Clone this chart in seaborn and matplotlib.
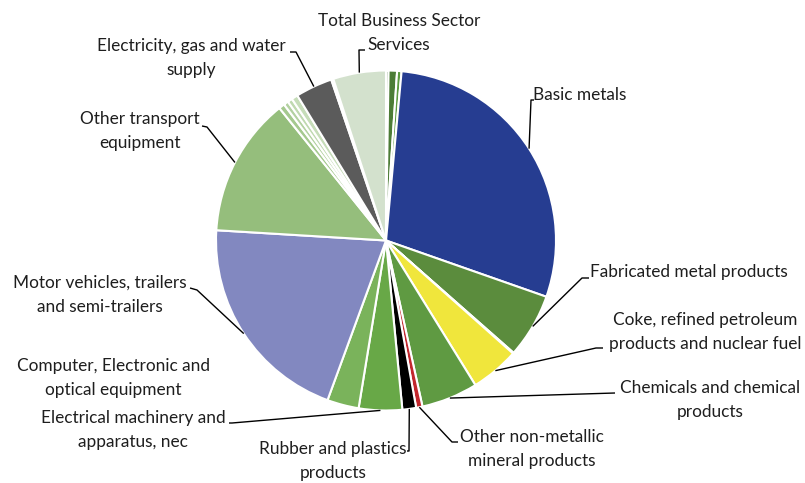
import matplotlib
matplotlib.use("Agg")
import matplotlib.pyplot as plt
import numpy as np
import seaborn as sns

# Sector shares (%), listed clockwise from 12 o'clock
sectors = [
    "", "", "",
    "Basic metals",
    "Fabricated metal products",
    "",
    "Coke, refined petroleum\nproducts and nuclear fuel",
    "Chemicals and chemical\nproducts",
    "Other non-metallic\nmineral products",
    "Rubber and plastics\nproducts",
    "Electrical machinery and\napparatus, nec",
    "Computer, Electronic and\noptical equipment",
    "Motor vehicles, trailers\nand semi-trailers",
    "Other transport\nequipment",
    "", "", "", "",
    "Electricity, gas and water\nsupply",
    "",
    "Total Business Sector\nServices",
]
shares = [
    0.24, 0.8, 0.42,
    28.8,
    6.1,
    0.08,
    4.6,
    5.35,
    0.6,
    1.3,
    4.1,
    3.0,
    20.3,
    13.2,
    0.55, 0.45, 0.45, 0.6,
    3.5,
    0.2,
    5.0,
]
slice_colors = [
    "#3f6e2e", "#4c7c36", "#5c9a3f",
    "#263d91",
    "#5b8c3d",
    "#9fa6d6",
    "#f0e63c",
    "#5f9a42",
    "#c2272d",
    "#000000",
    "#68a847",
    "#7ab35b",
    "#8288c0",
    "#95be7c",
    "#a5c98f", "#b3d1a1", "#bfd9b0", "#c6ddb9",
    "#5b5b5b",
    "#e3ecdd",
    "#d3e1cd",
]

W, H = 805, 483

# Label placement in pixel units (y measured from the top):
# text anchor, alignment, and leader path from the label back toward the slice
label_layout = {
    "Total Business Sector\nServices": ((399, 33), "center", [(365, 50), (359, 50)]),
    "Electricity, gas and water\nsupply": ((191, 58), "center", [(290, 52), (296, 52)]),
    "Other transport\nequipment": ((140, 131), "center", [(202, 126), (207, 127)]),
    "Basic metals": ((533, 95), "left", [(534, 100), (531, 100)]),
    "Fabricated metal products": ((590, 272), "left", [(589, 278), (582, 278)]),
    "Coke, refined petroleum\nproducts and nuclear fuel": ((705, 332), "center", [(603, 348), (596, 348)]),
    "Chemicals and chemical\nproducts": ((710, 400), "center", [(615, 393)]),
    "Other non-metallic\nmineral products": ((532, 449), "center", [(458, 442), (452, 442)]),
    "Rubber and plastics\nproducts": ((333, 461), "center", [(407, 451), (409, 451)]),
    "Electrical machinery and\napparatus, nec": ((133, 430), "center", [(229, 423), (232, 423)]),
    "Computer, Electronic and\noptical equipment": ((113, 378), "center", []),
    "Motor vehicles, trailers\nand semi-trailers": ((100, 295), "center", [(190, 288), (197, 290)]),
}

sns.set_theme(style="white")
plt.rcParams["font.family"] = ["Lato", "DejaVu Sans"]

fig = plt.figure(figsize=(W / 100, H / 100), dpi=100)
ax = fig.add_axes([0, 0, 1, 1])

cx, cy, radius = 386, H - 240.5, 170
palette = sns.color_palette(slice_colors)
wedges, _ = ax.pie(
    shares,
    colors=palette,
    startangle=90,
    counterclock=False,
    center=(cx, cy),
    radius=radius,
    wedgeprops=dict(edgecolor="white", linewidth=1.5),
)

ax.set_xlim(0, W)
ax.set_ylim(0, H)
ax.set_aspect("equal")
ax.axis("off")

text_color = "#1e1e1e"
for wedge, name in zip(wedges, sectors):
    if not name:
        continue
    (tx, ty), ha, path = label_layout[name]
    ax.text(tx, H - ty, name, ha=ha, va="center", fontsize=12.4,
            color=text_color, linespacing=1.6)
    if path:
        mid = np.deg2rad((wedge.theta1 + wedge.theta2) / 2)
        ex = wedge.center[0] + wedge.r * np.cos(mid)
        ey = wedge.center[1] + wedge.r * np.sin(mid)
        xs = [p[0] for p in path] + [ex]
        ys = [H - p[1] for p in path] + [ey]
        ax.plot(xs, ys, color="black", linewidth=1.0, solid_capstyle="butt")

fig.savefig("out.png", dpi=100)
